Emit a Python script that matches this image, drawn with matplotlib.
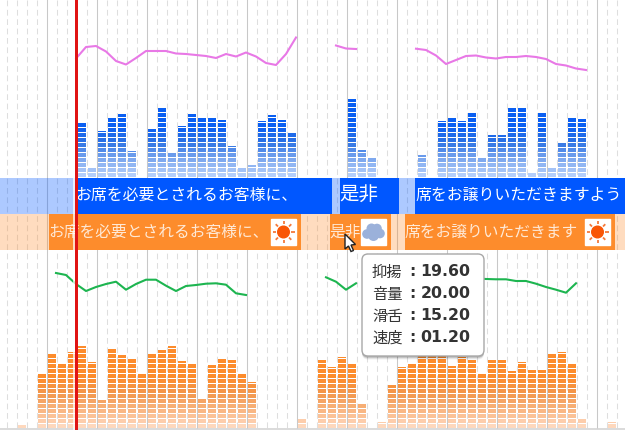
import matplotlib
matplotlib.use("Agg")
import numpy as np
import matplotlib.pyplot as plt
from matplotlib.colors import LinearSegmentedColormap
from matplotlib.patches import Circle, FancyBboxPatch, Polygon, Rectangle

plt.rcParams['font.family'] = ['Noto Sans CJK JP', 'DejaVu Sans']

nan = float('nan')

# one value per 10px slot, left to right
blue_levels = [0] * 7 + [54, 9, 46, 59, 63, 26, 0, 48, 69, 24, 51, 63, 59, 59, 57, 31, 9, 12, 56, 62, 57, 44] \
    + [0] * 5 + [78, 27, 19] + [0] * 4 \
    + [22, 0, 56, 59, 56, 64, 19, 42, 42, 69, 69, 4, 64, 9, 34, 59, 58] + [0] * 4
orange_levels = [0, 3, 0, 54, 74, 64, 76, 82, 66, 28, 79, 73, 69, 54, 74, 78, 82, 67, 64, 29, 63, 69, 68, 54, 46] \
    + [0] * 4 + [9, 0, 68, 61, 71, 64, 24, 0, 6, 43, 61, 64, 74, 76, 74, 62, 71, 68, 54, 68, 68, 57, 66, 58, 58, 74, 76, 64, 9, 0, 0, 6, 0]
pink_line = [nan] * 7 + [118.5, 130, 131, 125.5, 116, 112.5, 119, 126, 126, 126, 123.5, 123, 122, 121, 119, 123, 120.5, 124.5, 120.5, 114, 112, 123, 139.5] \
    + [nan] * 3 + [131.5, 128.5, 128] + [nan] * 5 \
    + [128.3, 127, 121.5, 113, 117, 121, 121.5, 119.5, 118.5, 120, 120, 121, 120, 118, 113, 111.5, 108.5, 107] + [nan] * 3
green_line = [nan] * 5 + [155, 153, 144, 137, 141, 144, 146.3, 138.3, 144, 148.3, 148.3, 142.3, 137, 142, 143, 144.3, 144.7, 143.3, 134.7, 133] \
    + [nan] * 7 + [150.7, 146.3, 138.3, 144.7] + [nan] * 11 \
    + [149.7, 149, 148.7, 148.7, 147, 147, 144.3, 141, 138.3, 135.3, 144.7] + [nan] * 4
band_top = [("お席を必要とされるお客様に、", 75.5, 11.4), ("是非", 339.5, 14), ("席をお譲りいただきますよう", 415, 11.4)]
band_bottom = [("お席を必要とされるお客様に、", 48, 11.3), ("是非", 330, 11.3), ("席をお譲りいただきます", 404, 11.3)]
tip_labels = ["抑揚", "音量", "滑舌", "速度"]
tip_values = ["19.60", "20.00", "15.20", "01.20"]

slots = 6 + 10 * np.arange(len(blue_levels))

blue_map = LinearSegmentedColormap.from_list("b", ["#b4cefb", "#7ba6ee", "#2f73e4", "#0a5ff2", "#0a5ff2"])
orange_map = LinearSegmentedColormap.from_list("o", ["#fed8bd", "#f9b47f", "#f2974d", "#fd8c2c", "#fd8c2c"])


def levels(ax, values, cmap):
    values = np.array(values, dtype=float)
    for row in range(17):
        low = row * 5
        h = np.clip(values - low, 0, 4)
        ax.bar(slots + 2, h, width=8, bottom=low, align='edge', color=cmap(min(row / 13, 1.0)), linewidth=0)


def sun(ax, cx, cy):
    ax.add_patch(Rectangle((cx - 12.5, cy - 13), 25, 26, color='white', zorder=5))
    ax.add_patch(Circle((cx, cy), 5.8, color='#f95606', zorder=6))
    for a in np.arange(8) * np.pi / 4:
        ax.plot([cx + 7.8 * np.cos(a), cx + 11 * np.cos(a)], [cy + 7.8 * np.sin(a), cy + 11 * np.sin(a)],
                color='#f5793a', lw=1.3, zorder=6, solid_capstyle='butt')


def cloud(ax, cx, cy):
    ax.add_patch(Rectangle((cx - 12.5, cy - 13), 25, 26, color='white', zorder=5))
    for dx, dy, r in [(-6.5, 2, 4.8), (-2, -3.5, 5), (3.5, -3.5, 4.8), (6.5, 1.5, 4.8), (0, 3.5, 5.5)]:
        ax.add_patch(Circle((cx + dx, cy + dy), r, color='#9bb1da', lw=0, zorder=6))


fig = plt.figure(figsize=(6.25, 4.3), dpi=100)

# background, pixel coordinates
bg = fig.add_axes([0, 0, 1, 1])
bg.set_xlim(0, 625)
bg.set_ylim(430, 0)
bg.axis('off')
for x in slots:
    major = (x - 46) % 50 == 0
    bg.plot([x + 0.5, x + 0.5], [0, 428], color='#c8c8c8' if major else '#dedede', lw=0.75,
            ls='-' if major else (0, (5.5, 3.5)), zorder=1)
bg.plot([0, 625], [428.5, 428.5], color='#d4d4d4', lw=1.2, zorder=1)

for x0, x1 in [(0, 78), (332, 340), (399, 415)]:
    bg.add_patch(Rectangle((x0, 178), x1 - x0, 36, color='#0057ff', alpha=0.32, lw=0, zorder=2))
bg.add_patch(Rectangle((0, 214), 625, 36, color='#ff8c2b', alpha=0.3, lw=0, zorder=2))
for x0, x1 in [(78, 332), (340, 399), (415, 625)]:
    bg.add_patch(Rectangle((x0, 178), x1 - x0, 36, color='#0057ff', lw=0, zorder=3))
for x0, x1 in [(49, 301), (330, 391), (405, 615)]:
    bg.add_patch(Rectangle((x0, 214), x1 - x0, 36, color='#fd8c2c', lw=0, zorder=3))
for label, x, size in band_top:
    bg.text(x, 195.5, label, color='white', fontsize=size, va='center', ha='left', zorder=4)
for label, x, size in band_bottom:
    bg.text(x, 232, label, color='#ffe9d6', fontsize=size, va='center', ha='left', zorder=4)
sun(bg, 283.5, 232)
cloud(bg, 373.5, 232)
sun(bg, 597.5, 232)

# top panel
top = fig.add_axes([0, 1 - 177 / 430, 1, 177 / 430])
top.set_xlim(0, 625)
top.set_ylim(0, 177)
top.axis('off')
levels(top, blue_levels, blue_map)
top.plot(slots, pink_line, color='#e878e6', lw=1.5)

# bottom panel
bottom = fig.add_axes([0, 2 / 430, 1, 178 / 430])
bottom.set_xlim(0, 625)
bottom.set_ylim(0, 178)
bottom.axis('off')
levels(bottom, orange_levels, orange_map)
bottom.plot(slots, green_line, color='#1db550', lw=1.5)

# overlay, pixel coordinates
over = fig.add_axes([0, 0, 1, 1])
over.set_xlim(0, 625)
over.set_ylim(430, 0)
over.axis('off')
over.patch.set_alpha(0)
over.add_patch(Rectangle((73, 0), 5, 430, color='white', alpha=0.7, lw=0, zorder=1))
over.add_patch(Rectangle((75, 0), 3, 430, color='#e01414', lw=0, zorder=2))

for off, a in [(3.5, 0.06), (2.5, 0.1), (1.5, 0.16)]:
    over.add_patch(FancyBboxPatch((366, 258 + off), 114, 94, boxstyle="round,pad=4,rounding_size=6",
                                  fc='black', ec='none', alpha=a, zorder=3))
over.add_patch(FancyBboxPatch((366, 258), 114, 94, boxstyle="round,pad=4,rounding_size=6",
                              fc='white', ec='#a8a8a8', lw=1, zorder=4))
for i in range(len(tip_labels)):
    y = 272 + 22 * i
    over.text(372, y, tip_labels[i], color='#333333', fontsize=11, va='center', ha='left', zorder=5)
    over.text(412.5, y, ":", color='#333333', fontsize=11, va='center', ha='center', fontweight='bold', zorder=5,
              family='DejaVu Sans')
    over.text(470.5, y, tip_values[i], color='#333333', fontsize=11.3, va='center', ha='right', fontweight='bold', zorder=5,
              family='DejaVu Sans')

over.add_patch(Polygon([(345, 234), (345, 249), (348.5, 246), (351, 251.5), (353.5, 250.5), (351, 245), (355.5, 244.5)],
                       closed=True, fc='white', ec='#222222', lw=1, zorder=6))

fig.savefig("out.png", dpi=100)
